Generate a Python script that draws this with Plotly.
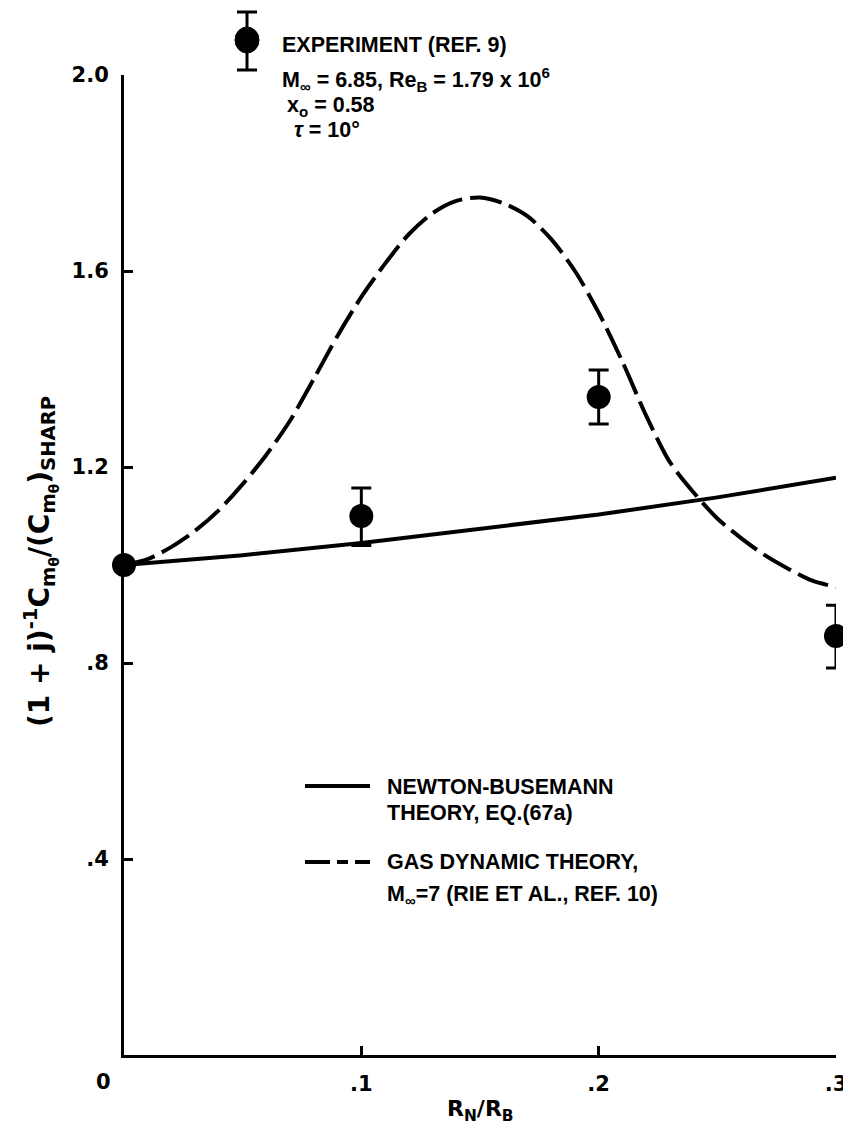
import plotly.graph_objects as go

# ---------------- data ----------------
exp_x = [0.0, 0.1, 0.2, 0.3]
exp_y = [1.0, 1.10, 1.343, 0.855]
exp_err_plus = [0.0, 0.057, 0.055, 0.063]
exp_err_minus = [0.0, 0.06, 0.055, 0.065]

newton_x = [0.0, 0.05, 0.10, 0.15, 0.20, 0.25, 0.30]
newton_y = [1.0, 1.02, 1.045, 1.073, 1.103, 1.138, 1.178]

gas_x = [0.0, 0.01, 0.02, 0.03, 0.04, 0.05, 0.06, 0.07, 0.08, 0.09, 0.10,
         0.11, 0.12, 0.13, 0.14, 0.15, 0.16, 0.17, 0.18, 0.19, 0.20,
         0.21, 0.22, 0.23, 0.24, 0.25, 0.26, 0.27, 0.28, 0.29, 0.30]
gas_y = [1.0, 1.012, 1.037, 1.07, 1.112, 1.165, 1.225, 1.295, 1.38, 1.468, 1.547,
         1.615, 1.675, 1.718, 1.743, 1.75, 1.738, 1.712, 1.665, 1.600, 1.515,
         1.415, 1.305, 1.21, 1.148, 1.095, 1.055, 1.02, 0.992, 0.968, 0.955]

y_tickvals = [0.4, 0.8, 1.2, 1.6, 2.0]
y_ticktext = [".4", ".8", "1.2", "1.6", "2.0"]
x_tickvals = [0.1, 0.2, 0.3]
x_ticktext = [".1", ".2", ".3"]

FONT = "Liberation Sans"
TICKFONT = "DejaVu Sans"
BLACK = "black"

fig = go.Figure()

fig.add_trace(go.Scatter(
    x=newton_x, y=newton_y, mode="lines",
    line=dict(color=BLACK, width=4), showlegend=False, cliponaxis=False))

fig.add_trace(go.Scatter(
    x=gas_x, y=gas_y, mode="lines",
    line=dict(color=BLACK, width=4, dash="32px,8px", shape="spline", smoothing=0.8),
    showlegend=False, cliponaxis=False))

fig.add_trace(go.Scatter(
    x=exp_x, y=exp_y, mode="markers",
    marker=dict(color=BLACK, size=24, symbol="circle"),
    error_y=dict(type="data", symmetric=False, array=exp_err_plus,
                 arrayminus=exp_err_minus, color=BLACK, thickness=3, width=10),
    showlegend=False, cliponaxis=False))

# ---------------- layout ----------------
# the page body has an 8px margin; the figure is sized so that it fills the window
OFF = 8
W, H = 851 - OFF, 1137 - OFF
# plot area in window pixels
PL, PR, PT, PB = 124, 836, 75, 1055
L, R, T, B = PL - OFF, OFF + W - PR, PT - OFF, OFF + H - PB


def px(xp):
    return (xp - PL) / (PR - PL)


def py(yp):
    return (PB - yp) / (PB - PT)


tickfont = dict(family=TICKFONT, size=21, color=BLACK, weight="bold")

fig.update_layout(
    width=W, height=H,
    margin=dict(l=L, r=R, t=T, b=B, autoexpand=False),
    paper_bgcolor="white", plot_bgcolor="white",
    font=dict(family=FONT, color=BLACK, weight="bold"),
    xaxis=dict(range=[0, 0.3], showgrid=False, zeroline=False, automargin=False,
               showline=True, linecolor=BLACK, linewidth=3,
               ticks="inside", ticklen=9, tickwidth=3, tickcolor=BLACK,
               tickvals=x_tickvals, ticktext=x_ticktext, tickfont=tickfont,
               ticklabelstandoff=8),
    yaxis=dict(range=[0, 2.0], showgrid=False, zeroline=False, automargin=False,
               showline=True, linecolor=BLACK, linewidth=3,
               ticks="inside", ticklen=9, tickwidth=3, tickcolor=BLACK,
               tickvals=y_tickvals, ticktext=y_ticktext, tickfont=tickfont,
               ticklabelstandoff=8),
)

ann_font = dict(family=FONT, size=21.5, color=BLACK, weight="bold")
annotations = [
    dict(text="0", x=px(103), y=py(1082), font=tickfont),
    dict(text="R<sub>N</sub>/R<sub>B</sub>", x=px(480), y=py(1110),
         font=dict(family=TICKFONT, size=22, color=BLACK, weight="bold")),
    dict(text="(1 + j)<sup>-1</sup>C<sub>m<sub>θ</sub></sub>/(C<sub>m<sub>θ</sub></sub>)<sub>SHARP</sub>",
         x=px(40), y=py(562), textangle=-90,
         font=dict(family=TICKFONT, size=28, color=BLACK, weight="bold")),
    dict(text="EXPERIMENT (REF. 9)", x=px(280), y=py(45), xanchor="left", font=ann_font),
    dict(text="M<sub>∞</sub> = 6.85, Re<sub>B</sub> = 1.79 x 10<sup>6</sup>", x=px(280), y=py(80),
         xanchor="left", font=ann_font),
    dict(text="x<sub>o</sub> = 0.58", x=px(285), y=py(107), xanchor="left", font=ann_font),
    dict(text="<i>τ</i> = 10°", x=px(292), y=py(130), xanchor="left", font=ann_font),
    dict(text="NEWTON-BUSEMANN", x=px(385), y=py(787), xanchor="left", font=ann_font),
    dict(text="THEORY, EQ.(67a)", x=px(385), y=py(813), xanchor="left", font=ann_font),
    dict(text="GAS DYNAMIC THEORY,", x=px(385), y=py(862), xanchor="left", font=ann_font),
    dict(text="M<sub>∞</sub>=7 (RIE ET AL., REF. 10)", x=px(385), y=py(895), xanchor="left", font=ann_font),
]
for a in annotations:
    a.setdefault("xanchor", "center")
    a.update(xref="paper", yref="paper", yanchor="middle", showarrow=False)
fig.update_layout(annotations=annotations)

# legend keys (decoration, in paper coordinates)
cx, cy = px(247), py(40)
shapes = [
    dict(type="line", xref="paper", yref="paper", x0=cx, x1=cx, y0=py(12), y1=py(70),
         line=dict(color=BLACK, width=3)),
    dict(type="line", xref="paper", yref="paper", xsizemode="pixel", xanchor=cx,
         x0=-10, x1=10, y0=py(12), y1=py(12), line=dict(color=BLACK, width=3)),
    dict(type="line", xref="paper", yref="paper", xsizemode="pixel", xanchor=cx,
         x0=-10, x1=10, y0=py(70), y1=py(70), line=dict(color=BLACK, width=3)),
    dict(type="circle", xref="paper", yref="paper", xsizemode="pixel", ysizemode="pixel",
         xanchor=cx, yanchor=cy, x0=-12, x1=12, y0=-13, y1=13,
         fillcolor=BLACK, line=dict(color=BLACK, width=1)),
    dict(type="line", xref="paper", yref="paper", x0=px(305), x1=px(370), y0=py(786), y1=py(786),
         line=dict(color=BLACK, width=4)),
    dict(type="line", xref="paper", yref="paper", x0=px(305), x1=px(370), y0=py(862), y1=py(862),
         line=dict(color=BLACK, width=4, dash="25px,7px,11px,7px")),
]
fig.update_layout(shapes=shapes)

fig.write_html("out.html")
